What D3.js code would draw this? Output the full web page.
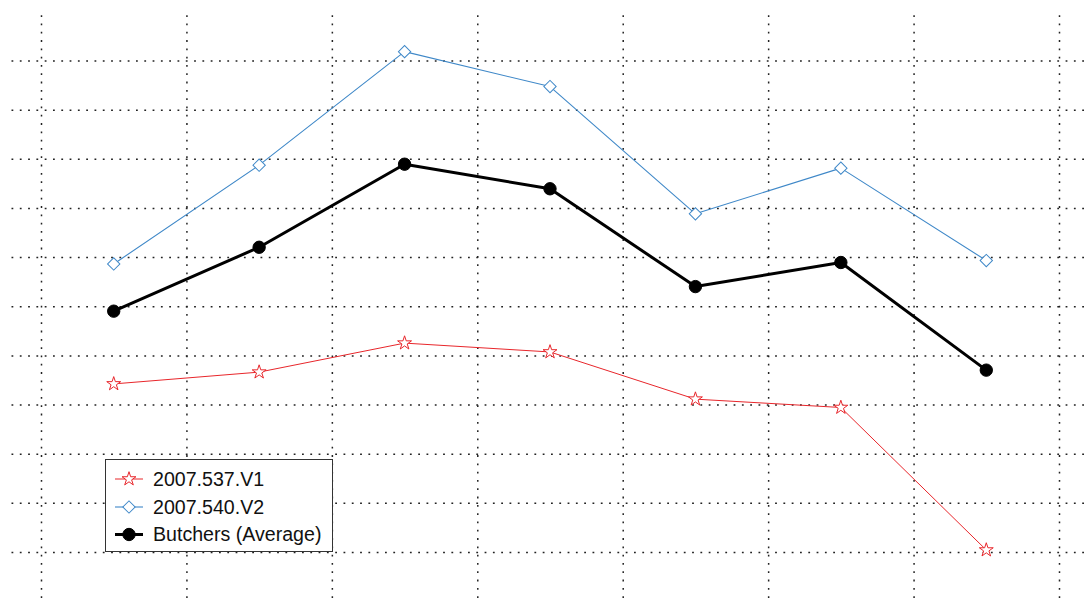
<!DOCTYPE html>
<html>
<head>
<meta charset="utf-8">
<script src="https://cdn.jsdelivr.net/npm/d3@7"></script>
<style>
  html, body { margin: 0; padding: 0; background: #fff; }
  svg { display: block; }
</style>
</head>
<body>
<svg id="chart" width="1084" height="598"></svg>
<script>
// ---- data ----
const categories = [1, 2, 3, 4, 5, 6, 7];
const seriesNames = ["2007.537.V1", "2007.540.V2", "Butchers (Average)"];
const v1 = [3.42, 3.66, 4.25, 4.07, 3.11, 2.94, 0.04];
const v2 = [5.86, 7.87, 10.18, 9.47, 6.88, 7.81, 5.93];
const avg = [4.90, 6.20, 7.89, 7.39, 5.40, 5.89, 3.70];
const xGridValues = [0.5, 1.5, 2.5, 3.5, 4.5, 5.5, 6.5, 7.5];
const yGridValues = [0, 1, 2, 3, 4, 5, 6, 7, 8, 9, 10];

const svg = d3.select("#chart");
const W = 1084, H = 598;

const x = d3.scaleLinear().domain([0.5, 7.5]).range([41, 1059]);
const y = d3.scaleLinear().domain([0, 10]).range([552, 60.5]);

// ---- grid ----
const grid = svg.append("g");
grid.append("g")
  .attr("transform", `translate(0,${H})`)
  .call(d3.axisBottom(x).tickValues(xGridValues).tickSize(-(H - 12)).tickFormat(""));
grid.append("g")
  .attr("transform", `translate(${W},0)`)
  .call(d3.axisLeft(y).tickValues(yGridValues).tickSize(W - 10).tickFormat(""));
grid.selectAll(".domain").remove();
grid.selectAll(".tick line")
  .attr("stroke", "#222")
  .attr("stroke-width", 1.5)
  .attr("stroke-dasharray", "1.8,6.5");

// ---- series ----
const series = [
  { name: seriesNames[0], values: v1, color: "#e8262b", width: 1, symbol: d3.symbolStar, size: 60, rot: 0, fill: "#fff" },
  { name: seriesNames[1], values: v2, color: "#3f88c8", width: 1.1, symbol: d3.symbolSquare, size: 76, rot: 45, fill: "#fff" },
  { name: seriesNames[2], values: avg, color: "#000", width: 3, symbol: d3.symbolCircle, size: 120, rot: 0, fill: "#000" }
];

const line = d3.line().x((d, i) => x(categories[i])).y(d => y(d));

series.forEach(s => {
  const g = svg.append("g");
  g.append("path")
    .attr("d", line(s.values))
    .attr("fill", "none")
    .attr("stroke", s.color)
    .attr("stroke-width", s.width)
    .attr("stroke-linejoin", "round");
  g.selectAll("path.m")
    .data(s.values)
    .join("path")
    .attr("class", "m")
    .attr("d", d3.symbol().type(s.symbol).size(s.size))
    .attr("transform", (d, i) => `translate(${x(categories[i])},${y(d)}) rotate(${s.rot})`)
    .attr("fill", s.fill)
    .attr("stroke", s.color)
    .attr("stroke-width", 1);
});

// ---- legend ----
const lg = svg.append("g").attr("transform", "translate(105.5,459.5)");
lg.append("rect")
  .attr("width", 227).attr("height", 92)
  .attr("fill", "#fff").attr("stroke", "#333").attr("stroke-width", 1);
const rowY = [19.5, 47.5, 75];
series.forEach((s, i) => {
  const r = lg.append("g").attr("transform", `translate(0,${rowY[i]})`);
  r.append("line").attr("x1", 9.5).attr("x2", 37.5)
    .attr("stroke", s.color).attr("stroke-width", s.width);
  r.append("path")
    .attr("d", d3.symbol().type(s.symbol).size(s.size))
    .attr("transform", `translate(23.5,0) rotate(${s.rot})`)
    .attr("fill", s.fill).attr("stroke", s.color).attr("stroke-width", 1);
  r.append("text")
    .attr("x", 47.5).attr("y", 0).attr("dy", "0.35em")
    .attr("font-family", "'Liberation Sans', Arial, Helvetica, sans-serif")
    .attr("font-size", "19.6px")
    .attr("fill", "#111")
    .text(s.name);
});
</script>
</body>
</html>
